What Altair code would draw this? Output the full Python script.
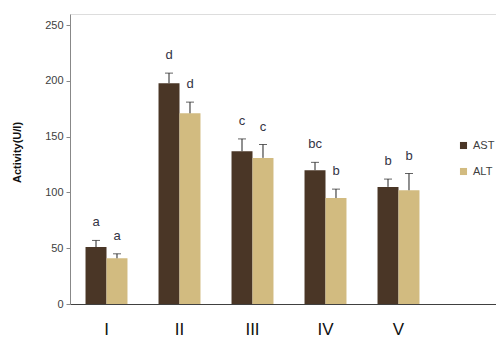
import altair as alt
import pandas as pd

groups = ["I", "II", "III", "IV", "V"]
ast_vals = [51, 198, 137, 120, 105]
ast_err = [57, 207, 148, 127, 112]
ast_letters = ["a", "d", "c", "bc", "b"]
alt_vals = [41, 171, 131, 95, 102]
alt_err = [45, 181, 143, 103, 117]
alt_letters = ["a", "d", "c", "b", "b"]
series = ["AST", "ALT"]
colors = ["#4a3626", "#d2bb80"]
x_domain = groups + [""]

rows = []
for i, g in enumerate(groups):
    rows.append({"group": g, "enzyme": "AST", "value": ast_vals[i], "hi": ast_err[i], "letter": ast_letters[i]})
    rows.append({"group": g, "enzyme": "ALT", "value": alt_vals[i], "hi": alt_err[i], "letter": alt_letters[i]})
df = pd.DataFrame(rows)

x_enc = alt.X("group:N", scale=alt.Scale(domain=x_domain, range=[0, 438], paddingInner=0, paddingOuter=0),
              axis=alt.Axis(title=None, labelAngle=0, ticks=False, labelFontSize=17, labelFont="Liberation Sans",
                            labelColor="#111111", labelPadding=17, domainColor="#404040", domainWidth=1))
xo_enc = alt.XOffset("enzyme:N", scale=alt.Scale(domain=series, paddingInner=0, paddingOuter=0.74))
y_enc = alt.Y("value:Q", scale=alt.Scale(domain=[0, 250]),
              axis=alt.Axis(title="Activity(U/l)", values=[0, 50, 100, 150, 200, 250], grid=False,
                            tickSize=4, tickColor="#888888", domainColor="#888888", labelFontSize=11,
                            labelColor="#404040", labelPadding=3, labelFont="Liberation Sans",
                            titleFontSize=11, titleFontWeight="bold", titleFont="Liberation Sans",
                            titleColor="#111111", titleX=-53, titleY=138, titleAngle=270,
                            titleAlign="center", titleBaseline="middle"))

base = alt.Chart(df)

bars = base.mark_bar().encode(
    x=x_enc, xOffset=xo_enc, y=y_enc,
    color=alt.Color("enzyme:N", scale=alt.Scale(domain=series, range=colors),
                    legend=alt.Legend(title=None, orient="none", legendX=388, legendY=126,
                                      symbolType="square", symbolSize=50, labelFontSize=11,
                                      labelColor="#404040", labelFont="Liberation Sans",
                                      rowPadding=14, symbolStrokeWidth=0)),
)

err = base.mark_rule(color="#222222", strokeWidth=1).encode(
    x="group:N", xOffset="enzyme:N", y="value:Q", y2="hi:Q")

caps = base.mark_tick(color="#222222", thickness=1, size=8, orient="horizontal").encode(
    x="group:N", xOffset="enzyme:N", y="hi:Q")

letters = base.mark_text(dy=-18, fontSize=13, color="#333344", font="Liberation Sans", baseline="middle").encode(
    x="group:N", xOffset="enzyme:N", y="hi:Q", text="letter:N")

chart = alt.layer(bars, err, caps, letters).properties(
    width=426, height=290,
    autosize=alt.AutoSizeParams(type="none"),
    padding={"left": 62, "top": 6, "right": 0, "bottom": 36},
).configure_view(stroke=None).configure(background="white")

chart.save("out.html", embed_options={"renderer": "svg", "actions": False})
